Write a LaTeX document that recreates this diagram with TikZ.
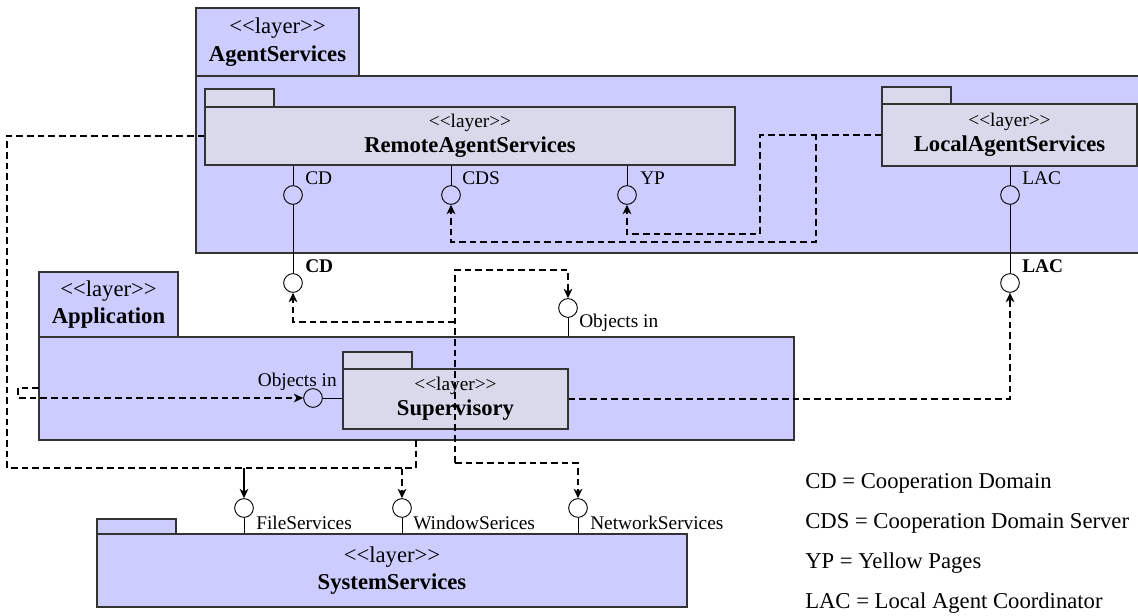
\documentclass[tikz,border=0pt]{standalone}
\usepackage{fontspec}
\setmainfont{Liberation Serif}
\usetikzlibrary{fit,arrows.meta}
\definecolor{lay}{HTML}{CCCCFF}
\definecolor{sublay}{HTML}{D9D9EC}
\tikzset{
	pkg/.style={
		draw = black!80,
		fill = lay,
		line width = 1pt,
		inner sep = 0
	},
	subpkg/.style={
		pkg,
		fill = sublay
	},
	iface/.style={
		shape = circle,
		draw,
		line width = 0.7pt,
		minimum size = 14pt,
		inner sep = 0
	},
	dep/.style={
		->,
		dash pattern = on 5pt off 3pt,
		line width = 1.1pt
	},
	big/.style={
		align = center,
		font = \fontsize{17}{20.5}\selectfont
	},
	small/.style={
		align = center,
		font = \fontsize{17}{19}\selectfont
	},
	lbl/.style={
		anchor = base west,
		inner sep = 0,
		font = \fontsize{14.5}{18.5}\selectfont
	},
}
\tikzset{>={Stealth[length=7pt, width=6.5pt, inset=2pt]}}
\newcommand{\stereo}{<{}<layer>{}>}
\newcommand{\substereo}{{\fontsize{14.5}{18.5}\selectfont\stereo}}

\begin{document}
\begin{tikzpicture}[x=0.75pt, y=-0.75pt]
    \useasboundingbox (0,0) rectangle (1138,616);
    % packages
    \node[pkg, fit={(196,8) (359,76)}] (agenttab) {};
    \node[pkg, fit={(196,76) (1150,253)}] (agent) {};
    \node[big] at (agenttab) {\stereo\\\textbf{AgentServices}};
    \node[subpkg, fit={(205,89) (274,107)}] (remotetab) {};
    \node[subpkg, fit={(205,107) (735,165)}] (remote) {};
    \node[small] at (remote) {\substereo\\\textbf{RemoteAgentServices}};
    \node[subpkg, fit={(882,87) (951,104)}] (localtab) {};
    \node[subpkg, fit={(882,104) (1137,166)}] (local) {};
    \node[small] at (local) {\substereo\\\textbf{LocalAgentServices}};
    \node[pkg, fit={(39,272) (178,337)}] (apptab) {};
    \node[pkg, fit={(39,337) (794,440)}] (app) {};
    \node[big] at (apptab) {\stereo\\\textbf{Application}};
    \node[subpkg, fit={(343,352) (412,369)}] (suptab) {};
    \node[subpkg, fit={(343,369) (568,429)}] (sup) {};
    \node[small] at (sup) {\substereo\\\textbf{Supervisory}};
    \node[pkg, fit={(97,519) (176,534)}] (systab) {};
    \node[pkg, fit={(97,534) (687,607)}] (sys) {};
    \node[big] at (sys) {\stereo\\\textbf{SystemServices}};
    % interfaces
    \node[iface] (cdup) at (293,195) {};
    \node[iface] (cds) at (451,195) {};
    \node[iface] (yp) at (627,195) {};
    \node[iface] (lacup) at (1010,195) {};
    \node[iface] (cddown) at (293,283) {};
    \node[iface] (lacdown) at (1010,283) {};
    \node[iface] (objtop) at (568,308) {};
    \node[iface] (objleft) at (313,398) {};
    \node[iface] (files) at (244,508) {};
    \node[iface] (wins) at (402,508) {};
    \node[iface] (nets) at (578,508) {};
    \foreach \i in {cdup, cds, yp}{
      \draw[line width=0.7pt] (\i) -- (\i |- remote.south);
    }
    \draw[line width=0.7pt] (lacup) -- (lacup |- local.south);
    \draw[line width=0.7pt] (cdup) -- (cddown);
    \draw[line width=0.7pt] (lacup) -- (lacdown);
    \draw[line width=0.7pt] (objtop) -- (objtop |- app.north);
    \draw[line width=0.7pt] (objleft) -- (objleft -| sup.west);
    \foreach \i in {files, wins, nets}{
      \draw[line width=0.7pt] (\i) -- (\i |- sys.north);
    }
    \node[lbl] at (305,185) {CD};
    \node[lbl] at (462,185) {CDS};
    \node[lbl] at (640,185) {YP};
    \node[lbl] at (1022,185) {LAC};
    \node[lbl] at (305,273) {\textbf{CD}};
    \node[lbl] at (1022,273) {\textbf{LAC}};
    \node[lbl] at (579,328) {Objects in};
    \node[lbl, anchor=base east] at (337,387) {Objects in};
    \node[lbl] at (256,529) {FileServices};
    \node[lbl] at (413,529) {WindowSerices};
    \node[lbl] at (590,529) {NetworkServices};
    % dependencies
    \coordinate (fj) at (244,468);
    \coordinate (wj) at (416,440);
    \coordinate (sj) at (455,463);
    \coordinate (st) at (455,270);
    \coordinate (sc) at (455,322);
    \coordinate (aw) at (39,388);
    \draw[dep] (local.west) -| (816,242) -| (cds.south);
    \draw[dep] (local.west) -| (760,234) -| (yp.south);
    \draw[dep, -] (remote.west) -| (7,468) -- (wins |- fj);
    \draw[->, line width=1.1pt] (fj) -- (files.north);
    \draw[dep] (wj) |- (wins |- fj) -- (wins.north);
    \draw[dep] (sup.east) -| (lacdown.south);
    \draw[dep] (aw) -- (18,388) |- (objleft.west);
    \draw[dep] (sj) -- (st) -| (objtop.north);
    \draw[dep] (sc) -| (cddown.south);
    \draw[dep] (sj) -| (nets.north);
    % legend
    \node[lbl, font=\fontsize{17}{20.5}\selectfont] at (805,488) {CD = Cooperation Domain};
    \node[lbl, font=\fontsize{17}{20.5}\selectfont] at (805,528) {CDS = Cooperation Domain Server};
    \node[lbl, font=\fontsize{17}{20.5}\selectfont] at (805,568) {YP = Yellow Pages};
    \node[lbl, font=\fontsize{17}{20.5}\selectfont] at (805,608) {LAC = Local Agent Coordinator};
\end{tikzpicture}
\end{document}
